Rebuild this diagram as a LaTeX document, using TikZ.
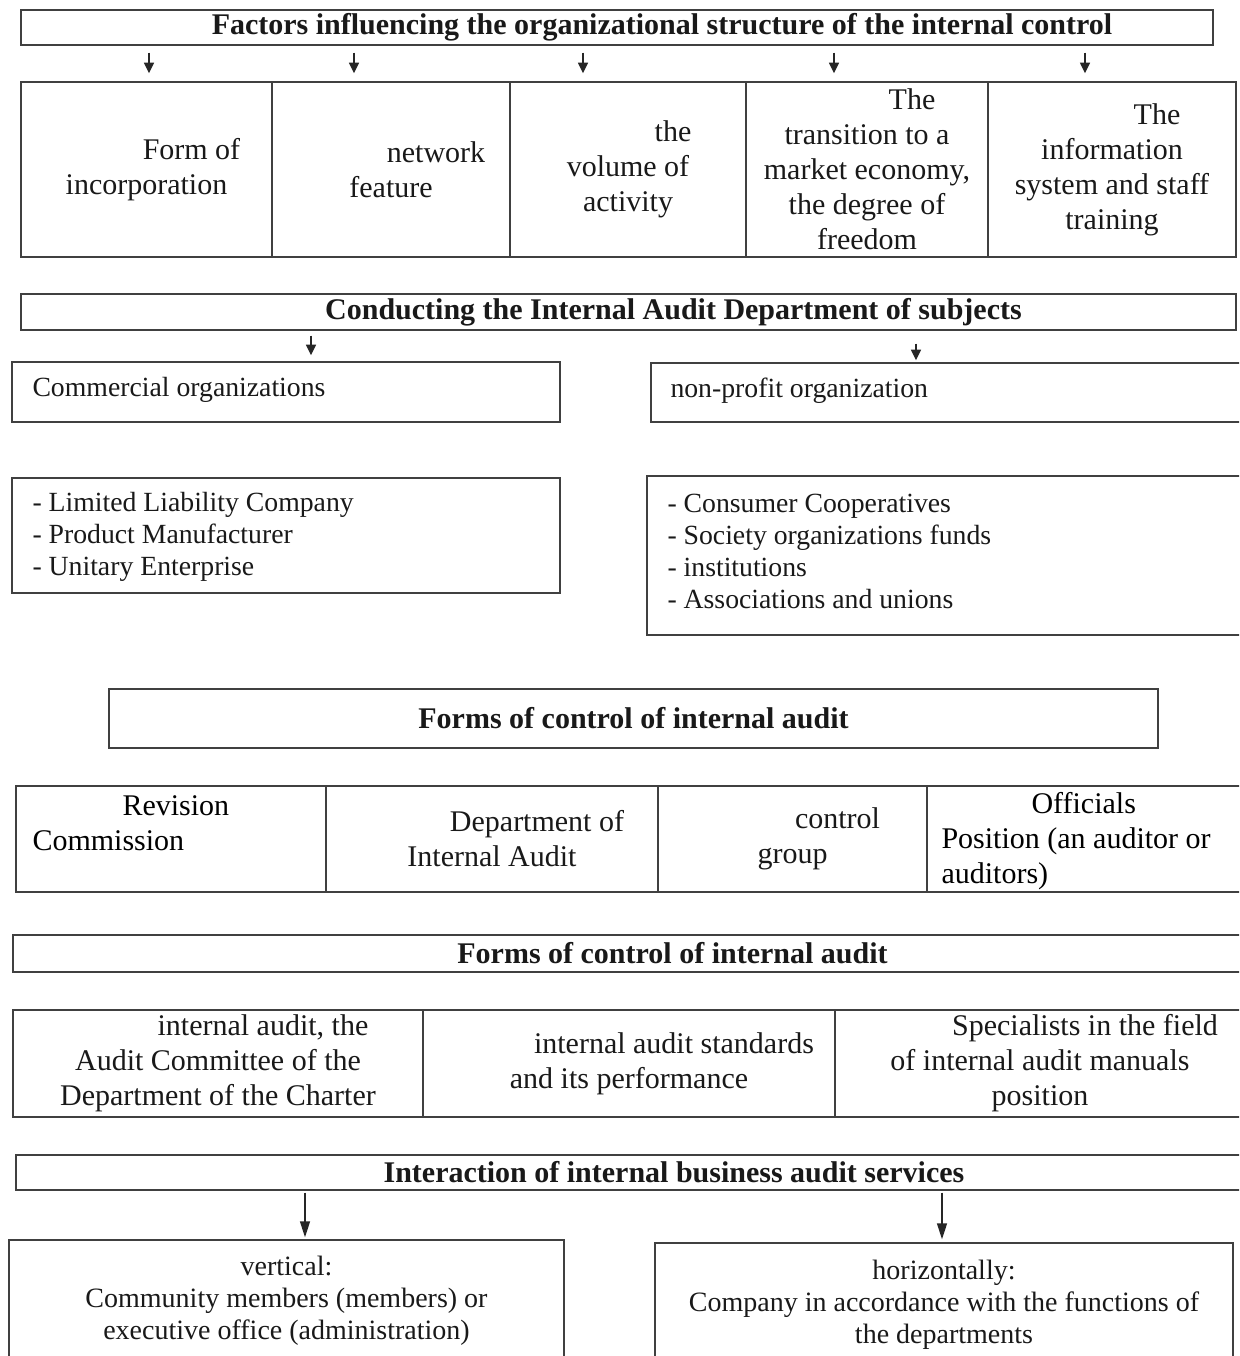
\documentclass[tikz,border=0pt]{standalone}
\usepackage{fontspec}
\setmainfont{Liberation Serif}
\usetikzlibrary{arrows.meta}
\newcommand{\firstind}{\hspace*{67.5pt}}
\tikzset{every picture/.style={line width=0.75pt}}
\tikzset{
  cellbox/.style={draw=black!75, line width=1.1pt, inner sep=0pt, text=black!90},
  sz/.style 2 args={minimum width=#1*0.75pt, minimum height=#2*0.75pt},
  headbox/.style={cellbox, font=\bfseries\fontsize{22.5}{26}\selectfont},
  bigtxt/.style={font=\fontsize{22.5}{26.25}\selectfont, align=center},
  smalltxt/.style={font=\fontsize{20.8}{24}\selectfont, align=left, inner sep=0pt, text=black!90},
  downarr/.style={draw=black!85, line width=1.1pt, -{Triangle[length=8pt,width=7.5pt]}},
  longarr/.style={draw=black!85, line width=1.1pt, -{Triangle[length=12pt,width=7.5pt]}},
}

\begin{document}
\begin{tikzpicture}[x=0.75pt,y=0.75pt,yscale=-1,xscale=1]
\path[use as bounding box, fill=white] (0,0) rectangle (1239,1356);
\clip (0,0) rectangle (1239,1356);

% Title: factors
\node[headbox, sz={1192}{35}] (fac) at (617,27.5) {\firstind Factors influencing the organizational structure of the internal control};
% Factor cells
\node[cellbox, bigtxt, sz={251}{175}] (form) at (146.5,169.5) {\firstind Form of\\incorporation};
\node[cellbox, bigtxt, sz={238}{175}] (net) at (391,169.5) {\firstind network\\feature};
\node[cellbox, bigtxt, sz={236}{175}] (vol) at (628,169.5) {\firstind the\\volume of\\activity};
\node[cellbox, bigtxt, sz={242}{175}] (mkt) at (867,169.5) {\firstind The\\transition to a\\market economy,\\the degree of\\freedom};
\node[cellbox, bigtxt, sz={248}{175}] (info) at (1112,169.5) {\firstind The\\information\\system and staff\\training};
% Arrows to factors
\foreach \cell/\x in {form/149, net/354, vol/583, mkt/834, info/1085}
  \draw[downarr, shorten <=5.25pt, shorten >=6pt] (fac.south -| \x,0) -- (\cell.north -| \x,0);

% Title: subjects
\node[headbox, sz={1215}{36}] (cond) at (628.5,312) {\firstind Conducting the Internal Audit Department of subjects};
% Subject boxes
\node[cellbox, sz={548}{60}] (comm) at (286,392) {};
\node[smalltxt, anchor=west] (commtxt) at (32,390) {Commercial organizations};
\node[cellbox, sz={591}{59}] (nonp) at (946.5,392.5) {};
\node[smalltxt, anchor=west] (nonptxt) at (670,391) {non-profit organization};
\draw[downarr, shorten <=3.75pt, shorten >=4.5pt] (cond.south -| 311,0) -- (comm.north -| 311,0);
\draw[downarr, shorten <=9.75pt, shorten >=1.5pt] (cond.south -| 916,0) -- (nonp.north -| 916,0);
% Lists
\node[cellbox, sz={548}{115}] (commlist) at (286,535.5) {};
\node[smalltxt, anchor=west] (commlisttxt) at (32,537) {- Limited Liability Company\\- Product Manufacturer\\- Unitary Enterprise};
\node[cellbox, sz={595}{159}] (nonplist) at (944.5,555.5) {};
\node[smalltxt, anchor=west] (nonplisttxt) at (667,551) {- Consumer Cooperatives\\- Society organizations funds\\- institutions\\- Associations and unions};

% Title: forms (first)
\node[headbox, sz={1049}{59}] (formsA) at (633.5,718.5) {Forms of control of internal audit};
% Form cells
\node[cellbox, sz={310}{106}] (revis) at (171,839) {};
\node[bigtxt, align=left, inner sep=0pt, anchor=west] (revistxt) at (32,823.5) {\firstind Revision\\Commission};
\node[cellbox, bigtxt, sz={332}{106}] (dept) at (492,839) {\firstind Department of\\Internal Audit};
\node[cellbox, bigtxt, sz={269}{106}] (ctrl) at (792.5,839) {\firstind control\\group};
\node[cellbox, sz={315}{106}] (offic) at (1084.5,839) {};
\node[bigtxt, align=left, inner sep=0pt, anchor=west] (offictxt) at (941,841) {\firstind Officials\\Position (an auditor or\\auditors)};

% Title: forms (second)
\node[headbox, sz={1229}{37}] (formsB) at (627.5,953.5) {\firstind Forms of control of internal audit};
% Second form cells
\node[cellbox, bigtxt, sz={410}{107}] (charter) at (218,1063.5) {\firstind internal audit, the\\Audit Committee of the\\Department of the Charter};
\node[cellbox, bigtxt, sz={412}{107}] (stand) at (629,1063.5) {\firstind internal audit standards\\and its performance};
\node[cellbox, bigtxt, sz={410}{107}] (spec) at (1040,1063.5) {\firstind Specialists in the field\\of internal audit manuals\\position};

% Title: interaction
\node[headbox, sz={1226}{35}] (inter) at (629,1172.5) {\firstind Interaction of internal business audit services};
\node[cellbox, font=\fontsize{21}{24}\selectfont, align=center, sz={555}{122}] (vert) at (286.5,1301) {vertical:\\Community members (members) or\\executive office (administration)};
\node[cellbox, font=\fontsize{21}{24}\selectfont, align=center, sz={578}{123}] (horiz) at (944,1304.5) {horizontally:\\Company in accordance with the functions of\\the departments};
\draw[longarr, shorten <=1.5pt, shorten >=1.5pt] (inter.south -| 305,0) -- (vert.north -| 305,0);
\draw[longarr, shorten <=1.5pt, shorten >=2.25pt] (inter.south -| 942,0) -- (horiz.north -| 942,0);

\end{tikzpicture}
\end{document}
